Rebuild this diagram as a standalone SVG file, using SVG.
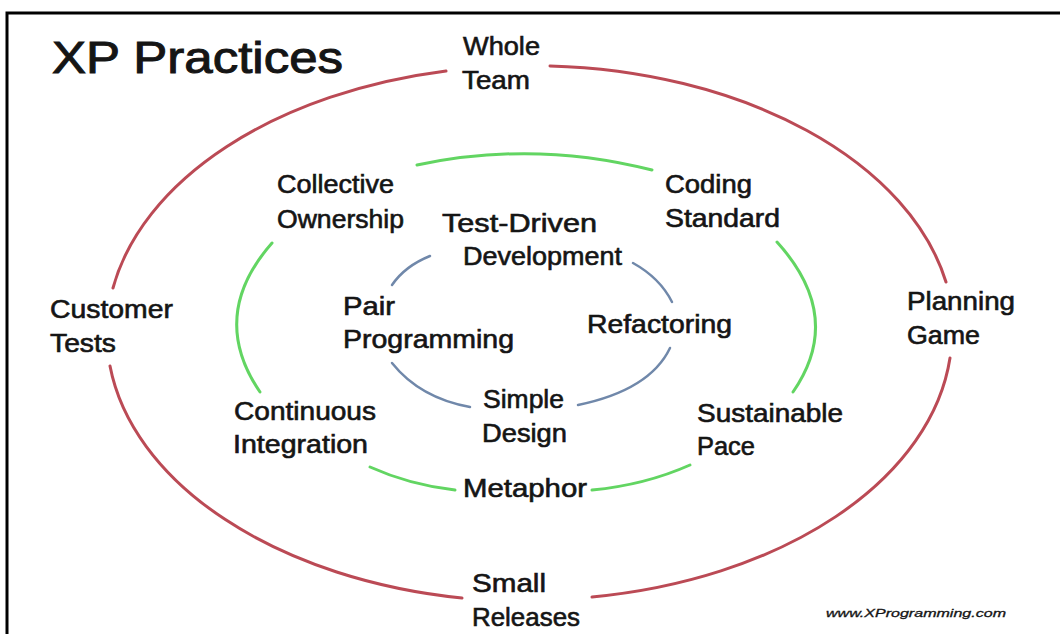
<svg xmlns="http://www.w3.org/2000/svg" width="1060" height="634" viewBox="0 0 1060 634">
<style>
.t{font-family:"Liberation Sans","DejaVu Sans",sans-serif;font-size:25px;fill:#151515;stroke:#151515;stroke-width:0.6px;}
.title{font-size:44px;stroke-width:1px;}
.small{font-size:11px;font-style:italic;stroke-width:0.3px;}
.red{fill:none;stroke:#bb4a55;stroke-width:3;stroke-linecap:round;}
.green{fill:none;stroke:#62d562;stroke-width:3;stroke-linecap:round;}
.blue{fill:none;stroke:#7088aa;stroke-width:2.5;stroke-linecap:round;}
</style>
<rect width="1060" height="634" fill="#ffffff"/>
<path d="M7,634 L7,13 L1060,13" fill="none" stroke="#000" stroke-width="3"/>
<g id="connectors">
  <path class="red" d="M446,71 A422,268 0 0 0 113,288"/>
  <path class="red" d="M550,66 A422,268 0 0 1 946,282"/>
  <path class="red" d="M950,358 A422,268 0 0 1 592,597"/>
  <path class="red" d="M110,366 A422,268 0 0 0 462,598"/>
  <path class="green" d="M417,165 Q535,140 652,170"/>
  <path class="green" d="M777,242 Q845,317 793,392"/>
  <path class="green" d="M272,243 Q208,316 260,392"/>
  <path class="green" d="M370,467 Q410,485 455,490"/>
  <path class="green" d="M592,490 Q645,485 690,465"/>
  <path class="blue" d="M392,285 Q405,266 430,256"/>
  <path class="blue" d="M633,263 Q660,278 672,302"/>
  <path class="blue" d="M670,348 Q650,390 578,405"/>
  <path class="blue" d="M392,363 Q420,398 470,407"/>
</g>
<g id="title"><text class="t title" x="52" y="73" textLength="291" lengthAdjust="spacingAndGlyphs">XP Practices</text></g>
<g id="whole-team"><text class="t" x="463" y="55" textLength="77" lengthAdjust="spacingAndGlyphs">Whole</text><text class="t" x="462" y="89" textLength="68" lengthAdjust="spacingAndGlyphs">Team</text></g>
<g id="collective-ownership"><text class="t" x="277" y="193" textLength="117" lengthAdjust="spacingAndGlyphs">Collective</text><text class="t" x="277" y="228" textLength="127" lengthAdjust="spacingAndGlyphs">Ownership</text></g>
<g id="coding-standard"><text class="t" x="665" y="193" textLength="87" lengthAdjust="spacingAndGlyphs">Coding</text><text class="t" x="665" y="227" textLength="115" lengthAdjust="spacingAndGlyphs">Standard</text></g>
<g id="tdd"><text class="t" x="442" y="232" textLength="155" lengthAdjust="spacingAndGlyphs">Test-Driven</text><text class="t" x="463" y="265" textLength="159" lengthAdjust="spacingAndGlyphs">Development</text></g>
<g id="pair-programming"><text class="t" x="343" y="315" textLength="52" lengthAdjust="spacingAndGlyphs">Pair</text><text class="t" x="343" y="348" textLength="171" lengthAdjust="spacingAndGlyphs">Programming</text></g>
<g id="refactoring"><text class="t" x="587" y="333" textLength="145" lengthAdjust="spacingAndGlyphs">Refactoring</text></g>
<g id="customer-tests"><text class="t" x="50" y="318" textLength="123" lengthAdjust="spacingAndGlyphs">Customer</text><text class="t" x="50" y="352" textLength="66" lengthAdjust="spacingAndGlyphs">Tests</text></g>
<g id="planning-game"><text class="t" x="907" y="310" textLength="108" lengthAdjust="spacingAndGlyphs">Planning</text><text class="t" x="907" y="344" textLength="73" lengthAdjust="spacingAndGlyphs">Game</text></g>
<g id="continuous-integration"><text class="t" x="234" y="420" textLength="142" lengthAdjust="spacingAndGlyphs">Continuous</text><text class="t" x="233" y="453" textLength="135" lengthAdjust="spacingAndGlyphs">Integration</text></g>
<g id="simple-design"><text class="t" x="483" y="408" textLength="81" lengthAdjust="spacingAndGlyphs">Simple</text><text class="t" x="482" y="442" textLength="85" lengthAdjust="spacingAndGlyphs">Design</text></g>
<g id="sustainable-pace"><text class="t" x="697" y="422" textLength="146" lengthAdjust="spacingAndGlyphs">Sustainable</text><text class="t" x="697" y="455" textLength="58" lengthAdjust="spacingAndGlyphs">Pace</text></g>
<g id="metaphor"><text class="t" x="463" y="497" textLength="124" lengthAdjust="spacingAndGlyphs">Metaphor</text></g>
<g id="small-releases"><text class="t" x="472" y="592" textLength="74" lengthAdjust="spacingAndGlyphs">Small</text><text class="t" x="472" y="626" textLength="108" lengthAdjust="spacingAndGlyphs">Releases</text></g>
<g id="credit"><text class="t small" x="826" y="617" textLength="180" lengthAdjust="spacingAndGlyphs">www.XProgramming.com</text></g>
</svg>
